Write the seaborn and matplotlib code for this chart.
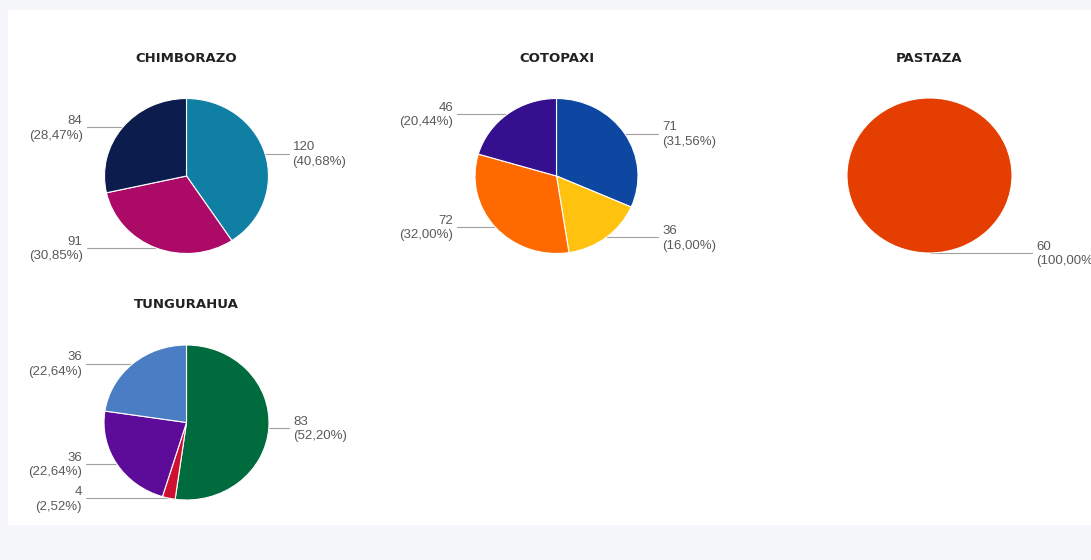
import numpy as np
import matplotlib
matplotlib.use("Agg")
import matplotlib.pyplot as plt
from matplotlib.patches import Rectangle
import seaborn as sns

# ---- data ----
titles = ["CHIMBORAZO", "COTOPAXI", "PASTAZA", "TUNGURAHUA"]
chimborazo_values = [120, 91, 84]
cotopaxi_values = [71, 36, 72, 46]
pastaza_values = [60]
tungurahua_values = [83, 4, 36, 36]

chimborazo_colors = ["#0f7fa3", "#ab0a66", "#0c1c4c"]
cotopaxi_colors = ["#0d47a1", "#ffc20e", "#ff6a00", "#34108f"]
pastaza_colors = ["#e43e00"]
tungurahua_colors = ["#006b3d", "#cf1030", "#5d0c99", "#4a7dc3"]

# ---- theme ----
sns.set_theme(style="white")
plt.rcParams["font.family"] = ["Liberation Sans", "DejaVu Sans"]

W, H = 1091, 560
fig = plt.figure(figsize=(W / 100, H / 100), dpi=100)
fig.patch.set_facecolor("#f5f7fa")

over = fig.add_axes([0, 0, 1, 1])
over.set_xlim(0, W)
over.set_ylim(H, 0)
over.axis("off")
over.set_zorder(0)
over.add_patch(Rectangle((8, 10), W - 8, 515, facecolor="white", edgecolor="none", zorder=0))

# pie layout in pixels: (cx, cy, rx, ry)
layout = [
    (186.5, 176.0, 82.0, 77.5),
    (556.5, 176.0, 81.5, 77.5),
    (929.5, 175.5, 82.5, 77.5),
    (186.5, 422.5, 82.5, 77.5),
]
title_y = [58, 58, 58, 304]
all_values = [chimborazo_values, cotopaxi_values, pastaza_values, tungurahua_values]
all_colors = [chimborazo_colors, cotopaxi_colors, pastaza_colors, tungurahua_colors]

pad = 1.06
for title, vals, cols, (cx, cy, rx, ry), ty in zip(titles, all_values, all_colors, layout, title_y):
    ax = fig.add_axes([(cx - rx * pad) / W, (H - cy - ry * pad) / H,
                       2 * rx * pad / W, 2 * ry * pad / H])
    ax.set_zorder(1)
    ax.pie(vals, colors=cols, startangle=90, counterclock=False, radius=1,
           wedgeprops=dict(edgecolor="white", linewidth=0.8))
    ax.set_xlim(-pad, pad)
    ax.set_ylim(-pad, pad)
    ax.set_aspect("auto")
    ax.axis("off")

    over.text(cx, ty, title, ha="center", va="center", fontsize=9.5,
              fontweight="bold", color="#222222", family=["DejaVu Sans"])

    total = float(sum(vals))
    cum = 0.0
    for v in vals:
        mid = cum + v / 2.0
        cum += v
        theta = np.deg2rad(90 - 360 * mid / total)
        ex = cx + rx * np.cos(theta)
        ey = cy - ry * np.sin(theta)
        pct = f"{v / total * 100:.2f}".replace(".", ",")
        label = f"{v}\n({pct}%)"
        if np.cos(theta) >= -1e-9:
            x_end = cx + rx + 20
            over.plot([ex, x_end], [ey, ey], color="#a0a0a0", lw=0.8, zorder=2)
            over.text(cx + rx + 24, ey + 1, label, ha="left", va="center",
                      multialignment="left", fontsize=9.5, color="#5a5a5a",
                      linespacing=1.3)
        else:
            x_end = cx - rx - 18
            over.plot([x_end, ex], [ey, ey], color="#a0a0a0", lw=0.8, zorder=2)
            over.text(cx - rx - 22, ey + 1, label, ha="right", va="center",
                      multialignment="right", fontsize=9.5, color="#5a5a5a",
                      linespacing=1.3)

fig.savefig("out.png", dpi=100, facecolor=fig.get_facecolor())
